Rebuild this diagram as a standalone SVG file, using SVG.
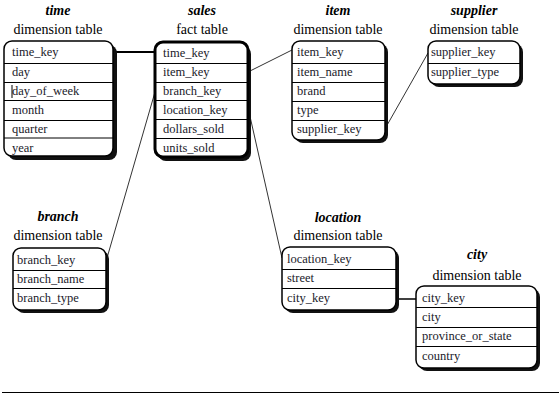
<svg xmlns="http://www.w3.org/2000/svg" width="559" height="400" viewBox="0 0 559 400">
<style>
.bg{fill:#fff}
.sh{fill:#111}
.box{fill:#fff;stroke:#000;stroke-width:1.5}
.fact{fill:#fff;stroke:#000;stroke-width:3}
.sep{stroke:#000;stroke-width:1}
text{font-family:'Liberation Serif','Times New Roman','DejaVu Serif',serif}
.row{font-size:12.5px;fill:#1a1a2a}
.name{font-size:14px;font-weight:bold;font-style:italic;text-anchor:middle;fill:#000}
.sub{font-size:14px;text-anchor:middle;fill:#000}
.con{stroke:#333;stroke-width:1;fill:none}
</style>
<rect class="bg" width="559" height="400"/>
<g id="connectors">
<line x1="113" y1="52" x2="155" y2="52" stroke="#000" stroke-width="2"/>
<line class="con" x1="250" y1="71" x2="292" y2="50"/>
<line class="con" x1="386" y1="127" x2="428" y2="53"/>
<line class="con" x1="155" y1="92" x2="107" y2="258"/>
<line class="con" x1="249" y1="112" x2="282" y2="258"/>
<line x1="396" y1="299" x2="416" y2="299" stroke="#000" stroke-width="1.5"/>
</g>
<g id="time">
<text class="name" x="58" y="15">time</text>
<text class="sub" x="58" y="34">dimension table</text>
<rect class="sh" x="8" y="45" width="109" height="115" rx="8"/>
<rect class="box" x="4" y="41" width="109" height="115" rx="8"/>
<line class="sep" x1="4" y1="63.5" x2="113" y2="63.5"/>
<line class="sep" x1="4" y1="82.5" x2="113" y2="82.5"/>
<line class="sep" x1="4" y1="100.5" x2="113" y2="100.5"/>
<line class="sep" x1="4" y1="120.5" x2="113" y2="120.5"/>
<line class="sep" x1="4" y1="138" x2="113" y2="138" stroke-width="2"/>
<text class="row" x="12" y="56">time_key</text>
<text class="row" x="12" y="76">day</text>
<text class="row" x="12" y="95">day_of_week</text>
<line x1="12" y1="85" x2="12" y2="98" stroke="#000" stroke-width="1"/>
<text class="row" x="12" y="114">month</text>
<text class="row" x="12" y="133">quarter</text>
<text class="row" x="12" y="152">year</text>
</g>
<g id="sales">
<text class="name" x="202" y="15">sales</text>
<text class="sub" x="202" y="34">fact table</text>
<rect class="sh" x="158" y="46" width="93" height="115" rx="8"/>
<rect class="fact" x="155" y="42" width="93" height="115" rx="8"/>
<line class="sep" x1="155" y1="63.5" x2="248" y2="63.5"/>
<line class="sep" x1="155" y1="82.5" x2="248" y2="82.5"/>
<line class="sep" x1="155" y1="100.5" x2="248" y2="100.5"/>
<line class="sep" x1="155" y1="119.5" x2="248" y2="119.5"/>
<line class="sep" x1="155" y1="138.5" x2="248" y2="138.5"/>
<text class="row" x="163" y="57">time_key</text>
<text class="row" x="163" y="76">item_key</text>
<text class="row" x="163" y="95">branch_key</text>
<text class="row" x="163" y="114">location_key</text>
<text class="row" x="163" y="133">dollars_sold</text>
<text class="row" x="163" y="152">units_sold</text>
</g>
<g id="item">
<text class="name" x="338" y="15">item</text>
<text class="sub" x="338" y="34">dimension table</text>
<rect class="sh" x="295" y="44" width="93" height="99" rx="8"/>
<rect class="box" x="292" y="41" width="93" height="99" rx="8"/>
<line class="sep" x1="292" y1="63.5" x2="385" y2="63.5"/>
<line class="sep" x1="292" y1="82.5" x2="385" y2="82.5"/>
<line class="sep" x1="292" y1="101.5" x2="385" y2="101.5"/>
<line class="sep" x1="292" y1="120.5" x2="385" y2="120.5"/>
<text class="row" x="297" y="56">item_key</text>
<text class="row" x="297" y="76">item_name</text>
<text class="row" x="297" y="95">brand</text>
<text class="row" x="297" y="114">type</text>
<text class="row" x="297" y="133">supplier_key</text>
</g>
<g id="supplier">
<text class="name" x="474" y="15">supplier</text>
<text class="sub" x="474" y="34">dimension table</text>
<rect class="sh" x="431" y="44" width="92" height="43" rx="8"/>
<rect class="box" x="428" y="41" width="92" height="43" rx="8"/>
<line class="sep" x1="428" y1="63.5" x2="520" y2="63.5"/>
<text class="row" x="431" y="56">supplier_key</text>
<text class="row" x="431" y="76">supplier_type</text>
</g>
<g id="branch">
<text class="name" x="58" y="221">branch</text>
<text class="sub" x="58" y="240">dimension table</text>
<rect class="sh" x="16" y="251" width="93" height="62" rx="8"/>
<rect class="box" x="13" y="248" width="93" height="62" rx="8"/>
<line class="sep" x1="13" y1="270.5" x2="106" y2="270.5"/>
<line class="sep" x1="13" y1="288.5" x2="106" y2="288.5"/>
<text class="row" x="17" y="264">branch_key</text>
<text class="row" x="17" y="283">branch_name</text>
<text class="row" x="17" y="302">branch_type</text>
</g>
<g id="location">
<text class="name" x="338" y="222">location</text>
<text class="sub" x="338" y="240">dimension table</text>
<rect class="sh" x="285" y="250" width="114" height="63" rx="8"/>
<rect class="box" x="282" y="247" width="114" height="63" rx="8"/>
<line class="sep" x1="282" y1="269.5" x2="396" y2="269.5"/>
<line class="sep" x1="282" y1="288.5" x2="396" y2="288.5"/>
<text class="row" x="287" y="263">location_key</text>
<text class="row" x="287" y="282">street</text>
<text class="row" x="287" y="302">city_key</text>
</g>
<g id="city">
<text class="name" x="477" y="259">city</text>
<text class="sub" x="477" y="280">dimension table</text>
<rect class="sh" x="419" y="289" width="121" height="82" rx="8"/>
<rect class="box" x="416" y="286" width="121" height="82" rx="8"/>
<line class="sep" x1="416" y1="307.5" x2="537" y2="307.5"/>
<line class="sep" x1="416" y1="327.5" x2="537" y2="327.5"/>
<line class="sep" x1="416" y1="346.5" x2="537" y2="346.5"/>
<text class="row" x="422" y="302">city_key</text>
<text class="row" x="422" y="321">city</text>
<text class="row" x="422" y="340">province_or_state</text>
<text class="row" x="422" y="360">country</text>
</g>
<line x1="2" y1="392.5" x2="559" y2="392.5" stroke="#000" stroke-width="1"/>
</svg>
